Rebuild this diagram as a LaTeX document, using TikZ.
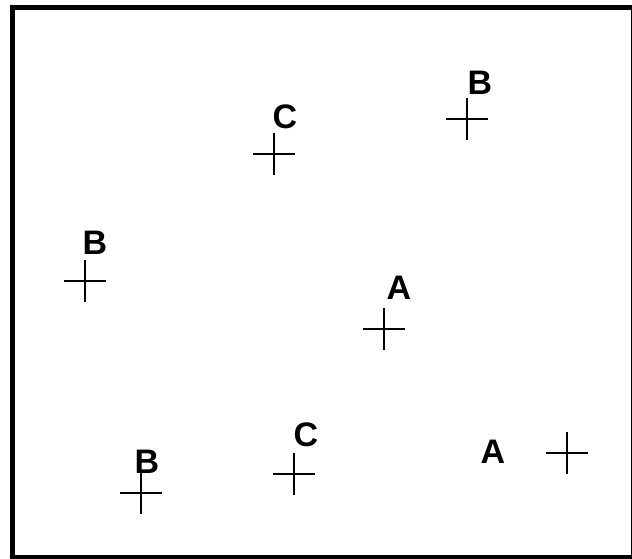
\documentclass[tikz,border=0pt]{standalone}
\usepackage{fontspec}
\setmainfont{Liberation Sans}

\begin{document}
\begin{tikzpicture}[
    x=1pt, y=-1pt,
    lbl/.style = {font=\fontsize{34}{40}\selectfont\bfseries,
                inner sep=0pt, outer sep=0pt},
    arm/.style = {black, line width=2pt}
                    ]
        \useasboundingbox (0,0) rectangle (632,558);
        \clip (0,0) rectangle (632,558);
        \def\r{21}
        % frame
        \draw [black,line width=5pt] (12,7.5) rectangle (633,557.5);
        % crosses
        \foreach \x/\y/\v in {273.5/154/c1, 467/119/b1, 85/281/b2, 384/329/a1, 141/493/b3, 294/474/c2, 567/453/a2}
            \coordinate (\v) at (\x,\y);
        \foreach \v in {c1, b1, b2, a1, b3, c2, a2}
            \draw [arm] (\v) +(-\r,0) -- +(\r,0) (\v) +(0,-\r) -- +(0,\r);
        % labels
        \foreach \x/\y/\v/\t in {285/117/c1/C, 480/83/b1/B, 95/243/b2/B, 399/288/a1/A, 147/462/b3/B, 306/435/c2/C, 493/452/a2/A}
            \node[lbl] at (\x,\y) (l\v) {\t};
    \end{tikzpicture}
\end{document}
